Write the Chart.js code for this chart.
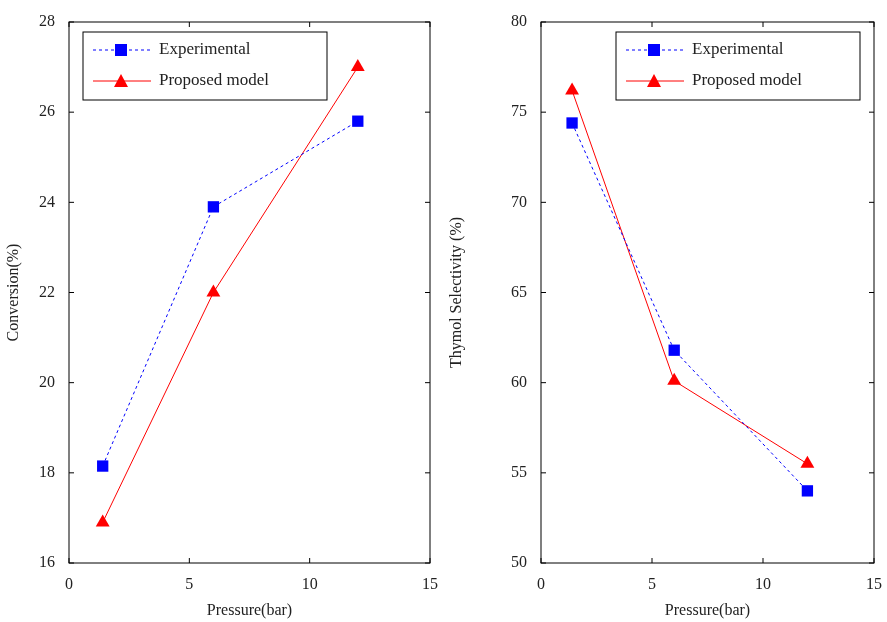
<!DOCTYPE html>
<html lang="en">
  <head>
    <meta charset="UTF-8" />
    <title>Pressure effect</title>
    <style>
      body { margin: 0; background: #fff; }
      .wrap { position: absolute; top: 0; width: 443px; height: 622px; }
    </style>
  </head>
  <body>
    <div class="wrap" style="left:0"><canvas id="conv"></canvas></div>
    <div class="wrap" style="left:443px"><canvas id="sel"></canvas></div>

    <script src="https://cdn.jsdelivr.net/npm/chart.js"></script>
    <script>
      const pressure = [1.4, 6, 12];
      const convExperimental = [18.15, 23.9, 25.8];
      const convModel = [16.9, 22.0, 27.0];
      const selExperimental = [74.4, 61.8, 54.0];
      const selModel = [76.2, 60.1, 55.5];
      const seriesNames = ["Experimental", "Proposed model"];

      const font = { family: "Liberation Serif", size: 16 };
      Chart.defaults.font = font;
      Chart.defaults.color = "#222";

      const toPoints = (ys) => pressure.map((x, i) => ({ x, y: ys[i] }));

      // legend box inside the plot + matlab-style frame and inward ticks
      const framePlugin = {
        id: "frame",
        afterDraw(chart, args, opts) {
          const { ctx, chartArea: a, scales } = chart;
          ctx.save();
          ctx.strokeStyle = "#000";
          ctx.lineWidth = 1;
          ctx.strokeRect(a.left, a.top, a.right - a.left, a.bottom - a.top);
          ctx.beginPath();
          scales.x.ticks.forEach((t) => {
            const px = scales.x.getPixelForValue(t.value);
            ctx.moveTo(px, a.bottom); ctx.lineTo(px, a.bottom - 5);
            ctx.moveTo(px, a.top); ctx.lineTo(px, a.top + 5);
          });
          scales.y.ticks.forEach((t) => {
            const py = scales.y.getPixelForValue(t.value);
            ctx.moveTo(a.left, py); ctx.lineTo(a.left + 5, py);
            ctx.moveTo(a.right, py); ctx.lineTo(a.right - 5, py);
          });
          ctx.stroke();

          const w = 244, h = 68;
          const bx = opts.side === "left" ? a.left + 14 : a.right - w - 14;
          const by = a.top + 10;
          ctx.fillStyle = "#fff";
          ctx.fillRect(bx, by, w, h);
          ctx.strokeRect(bx, by, w, h);
          ctx.font = "17px Liberation Serif";
          ctx.textBaseline = "middle";
          chart.data.datasets.forEach((ds, i) => {
            const y = by + 18 + i * 31;
            ctx.strokeStyle = ds.borderColor;
            ctx.setLineDash(ds.borderDash || []);
            ctx.beginPath();
            ctx.moveTo(bx + 10, y); ctx.lineTo(bx + 68, y);
            ctx.stroke();
            ctx.setLineDash([]);
            ctx.fillStyle = ds.backgroundColor;
            ctx.beginPath();
            if (ds.pointStyle === "rect") {
              ctx.rect(bx + 32, y - 6, 12, 12);
            } else {
              ctx.moveTo(bx + 38, y - 7); ctx.lineTo(bx + 45, y + 6); ctx.lineTo(bx + 31, y + 6);
              ctx.closePath();
            }
            ctx.fill();
            ctx.fillStyle = "#222";
            ctx.fillText(ds.label, bx + 76, y);
          });
          ctx.restore();
        },
      };

      function makeChart(id, exp, model, yMin, yMax, yStep, yTitle, yWidth, rightPad, side) {
        return new Chart(document.getElementById(id), {
          type: "scatter",
          data: {
            datasets: [
              {
                label: seriesNames[0],
                data: toPoints(exp),
                showLine: true,
                borderColor: "#0000ff",
                backgroundColor: "#0000ff",
                borderWidth: 1,
                borderDash: [3, 3],
                pointStyle: "rect",
                pointRadius: 8,
                pointBorderWidth: 0,
              },
              {
                label: seriesNames[1],
                data: toPoints(model),
                showLine: true,
                borderColor: "#ff0000",
                backgroundColor: "#ff0000",
                borderWidth: 1,
                pointStyle: "triangle",
                pointRadius: 8,
                pointBorderWidth: 0,
              },
            ],
          },
          options: {
            responsive: false,
            animation: false,
            layout: { padding: { top: 22, right: rightPad } },
            plugins: { legend: { display: false }, tooltip: { enabled: false }, frame: { side } },
            scales: {
              x: {
                min: 0, max: 15,
                ticks: { stepSize: 5, padding: 4 },
                grid: { display: false },
                border: { display: false },
                title: { display: true, text: "Pressure(bar)", padding: 2 },
                afterFit: (s) => { s.height = 59; },
              },
              y: {
                min: yMin, max: yMax,
                ticks: { stepSize: yStep, padding: 6 },
                grid: { display: false },
                border: { display: false },
                title: { display: true, text: yTitle },
                afterFit: (s) => { s.width = yWidth; },
              },
            },
          },
          plugins: [framePlugin],
        });
      }

      ["conv", "sel"].forEach((id) => {
        const c = document.getElementById(id);
        c.width = 443; c.height = 622;
      });

      makeChart("conv", convExperimental, convModel, 16, 28, 2, "Conversion(%)", 69, 13, "left");
      makeChart("sel", selExperimental, selModel, 50, 80, 5, "Thymol Selectivity (%)", 98, 0, "right");
    </script>
  </body>
</html>
